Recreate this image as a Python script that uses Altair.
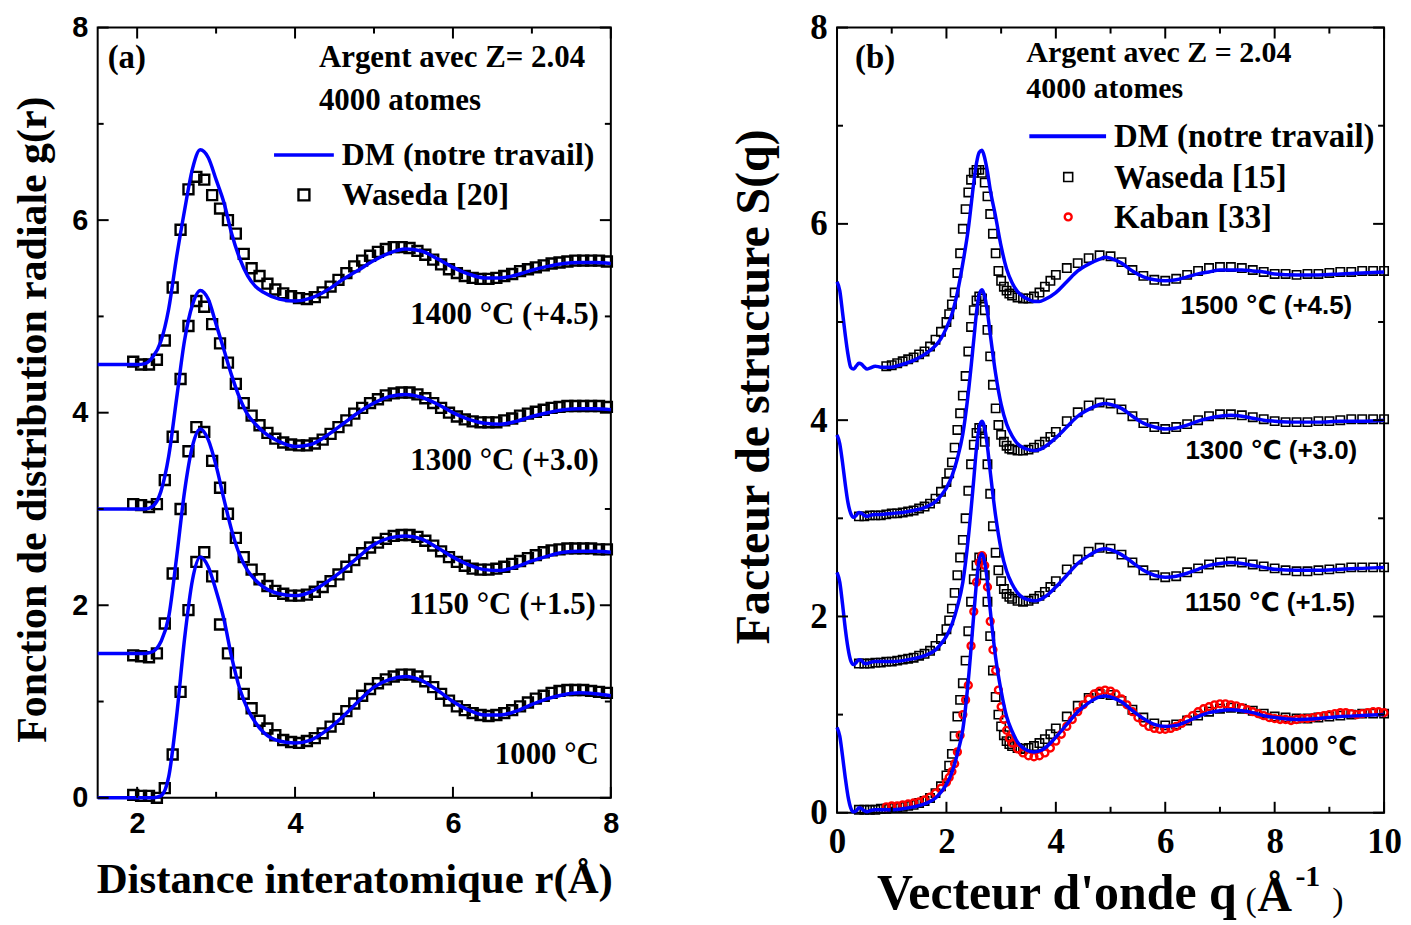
import altair as alt
import pandas as pd
import numpy as np

SERIF = "Liberation Serif"
SANS = "Liberation Sans, DejaVu Sans"
BLUE = "#0000FF"
RED = "#FF0000"

# ================= Panel (a): g(r) =================
R_DM = [1.5, 2.0, 2.1, 2.2, 2.3, 2.4, 2.5, 2.6, 2.7, 2.8, 2.9, 3.0, 3.1, 3.2, 3.3, 3.4, 3.5, 3.6,
        3.8, 4.0, 4.2, 4.4, 4.6, 4.8, 5.0, 5.2, 5.4, 5.6, 5.8, 6.0, 6.2, 6.4, 6.6, 6.8, 7.0, 7.2,
        7.4, 7.6, 7.8, 8.0]
G_DM_1000 = [0, 0, 0, 0, 0.02, 0.22, 0.85, 1.65, 2.26, 2.5, 2.4, 2.15, 1.85, 1.45, 1.13, 0.92, 0.78, 0.68,
             0.59, 0.57, 0.6, 0.7, 0.84, 1.0, 1.15, 1.23, 1.26, 1.22, 1.12, 1.0, 0.91, 0.86, 0.86, 0.9,
             0.97, 1.03, 1.07, 1.09, 1.08, 1.06]
G_DM_1150 = [0, 0, 0, 0.02, 0.12, 0.38, 1.0, 1.68, 2.15, 2.33, 2.22, 1.95, 1.6, 1.27, 1.02, 0.86, 0.76, 0.69,
             0.62, 0.6, 0.64, 0.74, 0.86, 1.0, 1.13, 1.2, 1.22, 1.19, 1.1, 1.0, 0.92, 0.87, 0.86, 0.9,
             0.96, 1.01, 1.05, 1.06, 1.06, 1.05]
G_DM_1300 = [0, 0, 0, 0.03, 0.18, 0.55, 1.15, 1.75, 2.12, 2.27, 2.18, 1.92, 1.65, 1.38, 1.15, 0.98, 0.88, 0.8,
             0.7, 0.65, 0.67, 0.76, 0.88, 1.0, 1.1, 1.17, 1.19, 1.16, 1.09, 1.0, 0.93, 0.89, 0.88, 0.91,
             0.96, 1.0, 1.03, 1.04, 1.04, 1.03]
G_DM_1400 = [0, 0, 0.01, 0.08, 0.24, 0.58, 1.12, 1.6, 2.03, 2.23, 2.15, 1.92, 1.68, 1.35, 1.1, 0.92, 0.81, 0.75,
             0.68, 0.66, 0.69, 0.77, 0.88, 0.98, 1.08, 1.16, 1.2, 1.18, 1.1, 1.01, 0.94, 0.9, 0.9, 0.93,
             0.98, 1.02, 1.05, 1.06, 1.06, 1.05]

R_W = list(np.round(1.95 + 0.1 * np.arange(61), 2))
G_W_1000 = [0.03, 0.02, 0.02, 0.0, 0.1, 0.45, 1.1, 1.95, 2.45, 2.55, 2.3, 1.8, 1.5, 1.3, 1.08, 0.93, 0.8, 0.72,
            0.65, 0.6, 0.58, 0.57, 0.59, 0.62, 0.67, 0.74, 0.82, 0.9, 0.98, 1.06, 1.13, 1.19, 1.23, 1.26,
            1.28, 1.28, 1.26, 1.21, 1.15, 1.08, 1.01, 0.95, 0.91, 0.88, 0.86, 0.85, 0.86, 0.88, 0.91, 0.95,
            0.99, 1.03, 1.06, 1.09, 1.11, 1.12, 1.12, 1.12, 1.11, 1.1, 1.09]
G_W_1150 = [-0.02, -0.03, -0.04, 0.0, 0.31, 0.83, 1.5, 2.1, 2.35, 2.3, 2.0, 1.72, 1.45, 1.2, 1.0, 0.87, 0.77,
            0.7, 0.65, 0.62, 0.6, 0.6, 0.61, 0.64, 0.69, 0.75, 0.82, 0.9, 0.97, 1.04, 1.1, 1.15, 1.19, 1.22,
            1.23, 1.23, 1.21, 1.17, 1.12, 1.06, 1.0, 0.95, 0.91, 0.88, 0.87, 0.87, 0.88, 0.9, 0.93, 0.96,
            0.99, 1.02, 1.05, 1.07, 1.08, 1.09, 1.09, 1.09, 1.09, 1.08, 1.08]
G_W_1300 = [0.05, 0.04, 0.02, 0.05, 0.3, 0.75, 1.35, 1.9, 2.16, 2.1, 1.92, 1.72, 1.52, 1.3, 1.1, 0.97, 0.87,
            0.79, 0.73, 0.69, 0.67, 0.66, 0.66, 0.68, 0.72, 0.78, 0.85, 0.92, 0.99, 1.05, 1.1, 1.14, 1.18,
            1.2, 1.21, 1.21, 1.19, 1.15, 1.1, 1.05, 1.0, 0.96, 0.93, 0.91, 0.9, 0.9, 0.9, 0.92, 0.94, 0.97,
            0.99, 1.01, 1.03, 1.05, 1.06, 1.07, 1.07, 1.07, 1.07, 1.07, 1.06]
G_W_1400 = [0.03, 0.0, 0.0, 0.05, 0.25, 0.8, 1.4, 1.82, 1.95, 1.92, 1.76, 1.62, 1.5, 1.36, 1.15, 1.0, 0.92,
            0.84, 0.78, 0.74, 0.71, 0.69, 0.68, 0.7, 0.75, 0.81, 0.88, 0.95, 1.02, 1.08, 1.13, 1.17, 1.2,
            1.22, 1.22, 1.21, 1.18, 1.14, 1.09, 1.04, 0.99, 0.95, 0.92, 0.9, 0.89, 0.89, 0.9, 0.92, 0.94,
            0.97, 0.99, 1.01, 1.03, 1.05, 1.06, 1.07, 1.08, 1.08, 1.08, 1.08, 1.07]
OFFSETS_A = [0.0, 1.5, 3.0, 4.5]
LABELS_A = ["1000 °C", "1150 °C (+1.5)", "1300 °C (+3.0)", "1400 °C (+4.5)"]

# ================= Panel (b): S(q) =================
Q_DM = [0.0, 0.05, 0.1, 0.15, 0.2, 0.25, 0.3, 0.35, 0.4, 0.45, 0.5, 0.55, 0.6, 0.7, 0.8, 1.0, 1.2, 1.4,
        1.6, 1.8, 1.9, 2.0, 2.1, 2.2, 2.3, 2.4, 2.5, 2.55, 2.6, 2.65, 2.7, 2.75, 2.8, 2.9, 3.0, 3.1,
        3.2, 3.3, 3.4, 3.5, 3.6, 3.7, 3.8, 4.0, 4.2, 4.4, 4.6, 4.8, 4.9, 5.0, 5.2, 5.4, 5.6, 5.8, 6.0,
        6.2, 6.4, 6.6, 6.8, 7.0, 7.2, 7.4, 7.6, 7.8, 8.0, 8.4, 8.8, 9.2, 9.6, 10.0]
S_DM_1000 = [0.87, 0.78, 0.58, 0.36, 0.17, 0.05, 0.01, 0.02, 0.05, 0.04, 0.02, 0.01, 0.02, 0.03, 0.03,
             0.03, 0.04, 0.06, 0.09, 0.15, 0.21, 0.29, 0.41, 0.6, 0.85, 1.35, 2.02, 2.35, 2.58, 2.64,
             2.55, 2.35, 2.07, 1.58, 1.24, 0.98, 0.83, 0.72, 0.66, 0.63, 0.62, 0.63, 0.66, 0.77, 0.9,
             1.03, 1.12, 1.18, 1.19, 1.18, 1.13, 1.04, 0.96, 0.9, 0.88, 0.89, 0.93, 0.98, 1.02, 1.04,
             1.05, 1.04, 1.02, 0.99, 0.97, 0.95, 0.96, 0.98, 0.99, 1.0]
S_DM_1150 = [0.95, 0.85, 0.63, 0.38, 0.18, 0.05, 0.01, 0.03, 0.06, 0.05, 0.02, 0.02, 0.03, 0.04, 0.04,
             0.04, 0.05, 0.07, 0.1, 0.16, 0.22, 0.3, 0.42, 0.6, 0.85, 1.3, 1.9, 2.22, 2.43, 2.49, 2.42,
             2.23, 1.98, 1.52, 1.18, 0.96, 0.83, 0.74, 0.69, 0.67, 0.66, 0.67, 0.7, 0.8, 0.92, 1.04,
             1.12, 1.18, 1.19, 1.18, 1.13, 1.05, 0.97, 0.92, 0.9, 0.91, 0.94, 0.98, 1.02, 1.04, 1.05,
             1.04, 1.02, 1.0, 0.98, 0.97, 0.97, 0.98, 0.99, 1.0]
S_DM_1300 = [0.85, 0.76, 0.57, 0.35, 0.16, 0.05, 0.01, 0.03, 0.06, 0.05, 0.03, 0.02, 0.03, 0.04, 0.04,
             0.05, 0.06, 0.08, 0.11, 0.17, 0.23, 0.31, 0.43, 0.61, 0.86, 1.28, 1.82, 2.1, 2.28, 2.33,
             2.26, 2.1, 1.88, 1.47, 1.16, 0.96, 0.84, 0.76, 0.72, 0.7, 0.69, 0.7, 0.73, 0.82, 0.93, 1.04,
             1.11, 1.16, 1.17, 1.16, 1.12, 1.04, 0.97, 0.93, 0.91, 0.92, 0.95, 0.99, 1.02, 1.04, 1.05,
             1.04, 1.02, 1.0, 0.99, 0.98, 0.98, 0.99, 0.99, 1.0]
S_DM_1500 = [0.91, 0.82, 0.6, 0.37, 0.17, 0.04, 0.02, 0.05, 0.08, 0.07, 0.04, 0.02, 0.03, 0.05, 0.04,
             0.04, 0.07, 0.11, 0.17, 0.26, 0.33, 0.44, 0.58, 0.8, 1.1, 1.45, 1.92, 2.12, 2.23, 2.25, 2.17,
             2.03, 1.85, 1.57, 1.27, 1.04, 0.9, 0.81, 0.76, 0.73, 0.71, 0.71, 0.73, 0.8, 0.91, 1.02,
             1.09, 1.14, 1.16, 1.15, 1.1, 1.02, 0.96, 0.93, 0.92, 0.93, 0.96, 0.99, 1.01, 1.03, 1.03,
             1.03, 1.02, 1.01, 0.99, 0.98, 0.98, 0.99, 1.0, 1.01]

Q_W = list(np.round(np.concatenate([0.4 + 0.1 * np.arange(17), 2.05 + 0.05 * np.arange(24),
                                    3.3 + 0.1 * np.arange(8), 4.2 + 0.2 * np.arange(30)]), 2))
S_W_1000 = [0.03, 0.03, 0.03, 0.03, 0.04, 0.04, 0.05, 0.05, 0.06, 0.07, 0.08, 0.1, 0.12, 0.15, 0.2, 0.27, 0.38,
            0.48, 0.6, 0.78, 0.98, 1.15, 1.32, 1.55, 1.85, 2.15, 2.38, 2.52, 2.6, 2.58, 2.42, 2.15, 1.8,
            1.45, 1.18, 1.0, 0.88, 0.79, 0.73, 0.7, 0.68,
            0.66, 0.65, 0.66, 0.68, 0.71, 0.75, 0.8, 0.86,
            0.98, 1.09, 1.17, 1.21, 1.2, 1.14, 1.05, 0.97, 0.91, 0.89, 0.9, 0.94, 0.99, 1.03, 1.06, 1.07,
            1.06, 1.04, 1.01, 0.98, 0.97, 0.96, 0.96, 0.97, 0.98, 0.99, 1.0, 1.01, 1.01, 1.01]
S_W_1150 = [0.02, 0.02, 0.02, 0.03, 0.03, 0.04, 0.04, 0.05, 0.06, 0.07, 0.08, 0.1, 0.12, 0.15, 0.2, 0.27, 0.37,
            0.46, 0.58, 0.74, 0.92, 1.1, 1.28, 1.5, 1.78, 2.05, 2.25, 2.37, 2.42, 2.4, 2.28, 2.05, 1.75,
            1.42, 1.15, 0.97, 0.86, 0.78, 0.73, 0.7, 0.68,
            0.66, 0.65, 0.66, 0.68, 0.71, 0.75, 0.8, 0.86,
            0.98, 1.08, 1.16, 1.2, 1.19, 1.13, 1.05, 0.97, 0.92, 0.9, 0.91, 0.95, 0.99, 1.03, 1.05, 1.06,
            1.05, 1.03, 1.01, 0.99, 0.97, 0.96, 0.96, 0.97, 0.98, 0.99, 1.0, 1.0, 1.0, 1.0]
S_W_1300 = [0.02, 0.02, 0.03, 0.03, 0.03, 0.04, 0.05, 0.05, 0.06, 0.07, 0.08, 0.1, 0.12, 0.15, 0.2, 0.27, 0.37,
            0.46, 0.57, 0.72, 0.9, 1.07, 1.25, 1.45, 1.7, 1.95, 2.12, 2.22, 2.26, 2.24, 2.12, 1.92, 1.65,
            1.36, 1.12, 0.95, 0.85, 0.78, 0.74, 0.71, 0.7,
            0.69, 0.69, 0.7, 0.72, 0.75, 0.78, 0.83, 0.88,
            0.99, 1.08, 1.15, 1.18, 1.17, 1.11, 1.04, 0.97, 0.93, 0.91, 0.93, 0.96, 1.0, 1.04, 1.06, 1.06,
            1.05, 1.03, 1.01, 0.99, 0.98, 0.98, 0.98, 0.99, 0.99, 1.0, 1.01, 1.01, 1.01, 1.01]
S_W_1500 = [0.05, 0.06, 0.08, 0.1, 0.12, 0.14, 0.17, 0.2, 0.25, 0.32, 0.4, 0.5,
            0.58, 0.68, 0.8, 1.0, 1.2, 1.45, 1.65, 1.82, 1.95, 2.02, 2.05, 2.05, 2.02, 1.92, 1.78, 1.6,
            1.4, 1.2, 1.02, 0.92, 0.86, 0.82, 0.79, 0.77,
            0.75, 0.74, 0.74, 0.76, 0.8, 0.86, 0.92, 0.98,
            1.05, 1.1, 1.15, 1.18, 1.17, 1.11, 1.03, 0.97, 0.93, 0.92, 0.94, 0.98, 1.02, 1.05, 1.06, 1.06,
            1.05, 1.03, 1.01, 0.99, 0.99, 0.98, 0.99, 0.99, 1.0, 1.01, 1.01, 1.02, 1.02, 1.02]

Q_K = list(np.round(np.concatenate([0.9 + 0.1 * np.arange(12), 2.05 + 0.05 * np.arange(24),
                                    3.3 + 0.1 * np.arange(68)]), 2))
S_K_1000 = [0.06, 0.07, 0.07, 0.08, 0.09, 0.1, 0.11, 0.13, 0.16, 0.2, 0.25, 0.31,
            0.36, 0.42, 0.5, 0.62, 0.79, 1.0, 1.15, 1.3, 1.7, 2.05, 2.35, 2.55, 2.62, 2.52, 2.3, 1.95,
            1.66, 1.45, 1.25, 1.08, 0.95, 0.84, 0.76, 0.71,
            0.65, 0.61, 0.58, 0.57, 0.58, 0.61, 0.66, 0.73, 0.8, 0.88, 0.95, 1.03, 1.1, 1.16, 1.21, 1.24,
            1.25, 1.24, 1.21, 1.16, 1.1, 1.03, 0.97, 0.92, 0.88, 0.86, 0.85, 0.85, 0.86, 0.88, 0.91, 0.95,
            0.99, 1.03, 1.06, 1.08, 1.1, 1.11, 1.11, 1.1, 1.09, 1.07, 1.05, 1.03, 1.01, 0.99, 0.97, 0.96,
            0.95, 0.95, 0.94, 0.95, 0.96, 0.96, 0.97, 0.98, 0.99, 1.0, 1.01, 1.02, 1.02, 1.01, 1.0, 1.01,
            1.02, 1.03, 1.03, 1.02]
OFFSETS_B = [0.0, 1.5, 3.0, 4.5]
LABELS_B = ["1000 ℃", "1150 ℃ (+1.5)", "1300 ℃ (+3.0)", "1500 ℃ (+4.5)"]

# ---------------- data frames ----------------
def stack(xs_list, ys_list, offsets):
    frames = []
    for i, (xs, ys, off) in enumerate(zip(xs_list, ys_list, offsets)):
        assert len(xs) == len(ys), (i, len(xs), len(ys))
        frames.append(pd.DataFrame({"x": xs, "y": np.array(ys, dtype=float) + off, "s": i}))
    return pd.concat(frames, ignore_index=True)

lines_a = stack([R_DM] * 4, [G_DM_1000, G_DM_1150, G_DM_1300, G_DM_1400], OFFSETS_A)
sq_a = stack([R_W] * 4, [G_W_1000, G_W_1150, G_W_1300, G_W_1400], OFFSETS_A)
lines_b = stack([Q_DM] * 4, [S_DM_1000, S_DM_1150, S_DM_1300, S_DM_1500], OFFSETS_B)
sq_b = stack([Q_W, Q_W, Q_W, Q_W[5:]], [S_W_1000, S_W_1150, S_W_1300, S_W_1500], OFFSETS_B)
circ_b = stack([Q_K], [S_K_1000], [0.0])

ONE = pd.DataFrame({"d": [0]})

def txt(s, x, y, size, font=SERIF, align="left", baseline="middle", weight="bold", color="black"):
    return alt.Chart(ONE).mark_text(text=s, font=font, fontSize=size, fontWeight=weight,
                                    align=align, baseline=baseline, color=color).encode(
        x=alt.value(x), y=alt.value(y))

def tick_layers(xmaj, xmin, ymaj, ymin, W, H, xs, ys, axx, axy):
    out = []
    for vals, L in ((xmaj, 11), (xmin, 6)):
        df = pd.DataFrame({"x": vals})
        for y0, y1 in ((H, H - L), (0, L)):
            out.append(alt.Chart(df).mark_rule(color="black", strokeWidth=2).encode(
                x=alt.X("x:Q", scale=xs, axis=axx), y=alt.value(y0), y2=alt.value(y1)))
    for vals, L in ((ymaj, 11), (ymin, 6)):
        df = pd.DataFrame({"y": vals})
        for x0, x1 in ((0, L), (W, W - L)):
            out.append(alt.Chart(df).mark_rule(color="black", strokeWidth=2).encode(
                y=alt.Y("y:Q", scale=ys, axis=axy), x=alt.value(x0), x2=alt.value(x1)))
    return out

# ---------------- panel (a) ----------------
WA, HA = 515, 773
xa = alt.Scale(domain=[1.5, 8], nice=False, zero=False)
ya = alt.Scale(domain=[0, 8], nice=False, zero=False)
ax_xa = alt.Axis(values=[2, 4, 6, 8], title="Distance interatomique r(Å)", titleFont=SERIF,
                 titleFontSize=43, titleFontWeight="bold", titleColor="black", titleY=82,
                 titleBaseline="middle", labelFont="Liberation Sans", labelFontSize=29,
                 labelFontWeight="bold", labelColor="black", labelPadding=12, ticks=False, tickSize=0,
                 domain=False, grid=False, labelFlush=False, labelOverlap=False)
ax_ya = alt.Axis(values=[0, 2, 4, 6, 8], title="Fonction de distribution radiale g(r)", titleFont=SERIF,
                 titleFontSize=42, titleFontWeight="bold", titleColor="black", titleX=-65, titleY=393,
                 titleBaseline="middle", labelFont="Liberation Sans", labelFontSize=29,
                 labelFontWeight="bold", labelColor="black", labelPadding=10, ticks=False, tickSize=0,
                 domain=False, grid=False, labelFlush=False, labelOverlap=False)

sqa = alt.Chart(sq_a).mark_point(shape="square", filled=False, color="black", strokeWidth=2.4,
                                 size=100, opacity=1).encode(
    x=alt.X("x:Q", scale=xa, axis=ax_xa), y=alt.Y("y:Q", scale=ya, axis=ax_ya), detail="s:N")
lna = alt.Chart(lines_a).mark_line(color=BLUE, strokeWidth=3.5, interpolate="monotone").encode(
    x=alt.X("x:Q", scale=xa, axis=ax_xa), y=alt.Y("y:Q", scale=ya, axis=ax_ya), detail="s:N")

texts_a = [
    txt("(a)", 10, 31, 33),
    txt("Argent avec Z= 2.04", 222, 31, 31),
    txt("4000 atomes", 222, 74, 31),
    txt("DM (notre travail)", 245, 128, 32),
    txt("Waseda [20]", 245, 168, 32),
    txt(LABELS_A[3], 503, 288, 31, align="right"),
    txt(LABELS_A[2], 503, 435, 31, align="right"),
    txt(LABELS_A[1], 500, 580, 31, align="right"),
    txt(LABELS_A[0], 503, 730, 31, align="right"),
    alt.Chart(ONE).mark_rule(color=BLUE, strokeWidth=3.5).encode(
        x=alt.value(177), x2=alt.value(237), y=alt.value(128)),
    alt.Chart(ONE).mark_point(shape="square", filled=False, color="black", strokeWidth=2.4,
                              size=120, opacity=1).encode(x=alt.value(207), y=alt.value(168)),
]

panel_a = alt.layer(sqa, lna,
                    *tick_layers([2, 4, 6, 8], [3, 5, 7], [0, 2, 4, 6, 8], [1, 3, 5, 7], WA, HA, xa, ya,
                                 ax_xa, ax_ya),
                    *texts_a).properties(width=WA, height=HA)

# ---------------- panel (b) ----------------
WB, HB = 549, 788
xb = alt.Scale(domain=[0, 10], nice=False, zero=False)
yb = alt.Scale(domain=[0, 8], nice=False, zero=False)
ax_xb = alt.Axis(values=[0, 2, 4, 6, 8, 10], title=None, labelFont=SERIF, labelFontSize=35,
                 labelFontWeight="bold", labelColor="black", labelPadding=12, ticks=False, tickSize=0,
                 domain=False, grid=False, labelFlush=False, labelOverlap=False)
ax_yb = alt.Axis(values=[0, 2, 4, 6, 8], title="Facteur de structure S(q)", titleFont=SERIF,
                 titleFontSize=48, titleFontWeight="bold", titleColor="black", titleX=-83, titleY=360,
                 titleBaseline="middle", labelFont=SERIF, labelFontSize=35, labelFontWeight="bold",
                 labelColor="black", labelPadding=10, ticks=False, tickSize=0, domain=False, grid=False,
                 labelFlush=False, labelOverlap=False)

sqb = alt.Chart(sq_b).mark_point(shape="square", filled=False, color="black", strokeWidth=1.6,
                                 size=70, opacity=1).encode(
    x=alt.X("x:Q", scale=xb, axis=ax_xb), y=alt.Y("y:Q", scale=yb, axis=ax_yb), detail="s:N")
crb = alt.Chart(circ_b).mark_point(shape="circle", filled=False, color=RED, strokeWidth=2.4,
                                   size=48, opacity=1).encode(
    x=alt.X("x:Q", scale=xb, axis=ax_xb), y=alt.Y("y:Q", scale=yb, axis=ax_yb))
lnb = alt.Chart(lines_b).mark_line(color=BLUE, strokeWidth=3.5, interpolate="monotone").encode(
    x=alt.X("x:Q", scale=xb, axis=ax_xb), y=alt.Y("y:Q", scale=yb, axis=ax_yb), detail="s:N")

texts_b = [
    txt("(b)", 18, 31, 33),
    txt("Argent avec Z = 2.04", 190, 26, 30),
    txt("4000 atomes", 190, 62, 30),
    txt("DM (notre travail)", 278, 110, 33),
    txt("Waseda [15]", 278, 151, 33),
    txt("Kaban [33]", 278, 191, 33),
    txt(LABELS_B[3], 517, 279, 26, font=SANS, align="right"),
    txt(LABELS_B[2], 522, 425, 26, font=SANS, align="right"),
    txt(LABELS_B[1], 520, 578, 26, font=SANS, align="right"),
    txt(LABELS_B[0], 522, 722, 26, font=SANS, align="right"),
    alt.Chart(ONE).mark_rule(color=BLUE, strokeWidth=4).encode(
        x=alt.value(193), x2=alt.value(270), y=alt.value(109)),
    alt.Chart(ONE).mark_point(shape="square", filled=False, color="black", strokeWidth=1.6,
                              size=80, opacity=1).encode(x=alt.value(232), y=alt.value(150)),
    alt.Chart(ONE).mark_point(shape="circle", filled=False, color=RED, strokeWidth=2.4,
                              size=48, opacity=1).encode(x=alt.value(232), y=alt.value(190)),
    # x-axis title in parts
    txt("Vecteur d'onde q", 40, 885, 50, baseline="alphabetic"),
    txt("(", 410, 887, 34, baseline="alphabetic", weight="normal"),
    txt("Å", 422, 887, 48, baseline="alphabetic"),
    txt("-1", 460, 862, 30, baseline="alphabetic"),
    txt(")", 497, 887, 34, baseline="alphabetic", weight="normal"),
]

panel_b = alt.layer(sqb, crb, lnb,
                    *tick_layers([0, 2, 4, 6, 8, 10], [1, 3, 5, 7, 9], [0, 2, 4, 6, 8], [1, 3, 5, 7],
                                 WB, HB, xb, yb, ax_xb, ax_yb),
                    *texts_b).properties(width=WB, height=HB)

chart = alt.hconcat(panel_a, panel_b, spacing=109).properties(
    background="white", padding={"left": 3, "top": 0, "right": 0, "bottom": 0}
).configure_view(stroke="black", strokeWidth=2)

chart.save("out.html", embed_options={"renderer": "svg", "actions": False})
